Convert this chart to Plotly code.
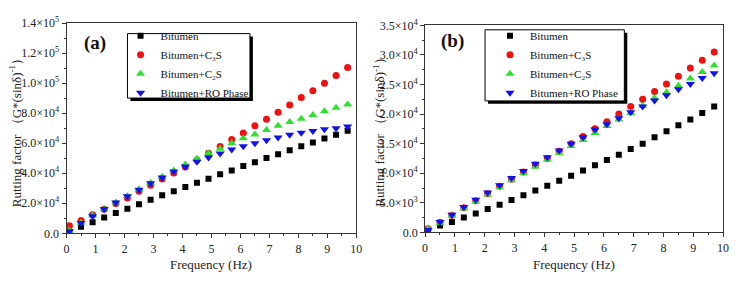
import plotly.graph_objects as go

freq = [0.1, 0.5, 0.9, 1.3, 1.7, 2.1, 2.5, 2.9, 3.3, 3.7, 4.1, 4.5, 4.9,
        5.3, 5.7, 6.1, 6.5, 6.9, 7.3, 7.7, 8.1, 8.5, 8.9, 9.3, 9.7]

series_names = ["Bitumen", "Bitumen+C₃S", "Bitumen+C₂S", "Bitumen+RO Phase"]

a_bitumen = [1000, 4300, 7400, 10500, 13500, 16400, 19400, 22300, 25300, 28000, 30900, 33700, 36400,
             39300, 41900, 44800, 47400, 50100, 52600, 55300, 58000, 60500, 63100, 65700, 68300]
a_c3s = [5000, 8500, 12400, 16000, 19800, 23600, 28000, 32000, 36200, 40200, 44200, 48800, 53300,
         57900, 62500, 66900, 71600, 76000, 80700, 85500, 90400, 95000, 100000, 105200, 110400]
a_c2s = [1700, 7000, 11800, 16400, 20600, 24800, 29300, 33700, 37700, 41900, 45900, 49700, 53300,
         56400, 60000, 63400, 65900, 68800, 71600, 74100, 76400, 78900, 81400, 83600, 85900]
a_ro = [1400, 6800, 11400, 16200, 20500, 24700, 29100, 33300, 37200, 41200, 44500, 47700, 50500,
        53200, 55800, 58000, 60000, 62000, 63800, 65700, 67000, 68200, 69300, 70000, 71200]

b_bitumen = [300, 1170, 1760, 2500, 3190, 3940, 4680, 5480, 6280, 7070, 7870, 8720, 9570,
             10480, 11330, 12230, 13140, 14100, 15000, 16100, 17100, 18100, 19100, 20200, 21300]
b_c3s = [600, 1700, 2900, 4150, 5350, 6550, 7800, 9000, 10200, 11400, 12500, 13700, 15000,
         16200, 17500, 18700, 20000, 21300, 22500, 23800, 25100, 26400, 27800, 29100, 30500]
b_c2s = [600, 1600, 2850, 4050, 5200, 6400, 7650, 8800, 10000, 11100, 12300, 13400, 14600,
         15600, 16800, 18000, 19100, 20200, 21400, 22700, 23700, 24800, 26000, 27100, 28200]
b_ro = [400, 1760, 3000, 4280, 5500, 6730, 7960, 9200, 10370, 11600, 12700, 13850, 15000,
        16100, 17400, 18300, 19300, 20300, 21300, 22300, 23200, 24200, 25100, 26100, 26900]

a_yticks = [0, 20000, 40000, 60000, 80000, 100000, 120000, 140000]
a_yticktext = ["0.0", "2.0×10<sup>4</sup>", "4.0×10<sup>4</sup>", "6.0×10<sup>4</sup>",
               "8.0×10<sup>4</sup>", "1.0×10<sup>5</sup>", "1.2×10<sup>5</sup>", "1.4×10<sup>5</sup>"]
b_yticks = [0, 5000, 10000, 15000, 20000, 25000, 30000, 35000]
b_yticktext = ["0.0", "5.0×10<sup>3</sup>", "1.0×10<sup>4</sup>", "1.5×10<sup>4</sup>",
               "2.0×10<sup>4</sup>", "2.5×10<sup>4</sup>", "3.0×10<sup>4</sup>", "3.5×10<sup>4</sup>"]
xticks = [0, 1, 2, 3, 4, 5, 6, 7, 8, 9, 10]

FONT = "Liberation Serif, Times New Roman, DejaVu Serif, serif"
colors = ["#000000", "#f01010", "#30e030", "#1010f0"]
symbols = ["square", "circle", "triangle-up", "triangle-down"]
sizes = [6, 7, 8, 8]

W, H = 738, 288
def px(x):
    return x / W
def py(y):
    return 1 - y / H

dom_a_x = [px(64.3), px(357.7)]
dom_a_y = [py(237.7), py(16)]
dom_b_x = [px(427.3), px(729)]
dom_b_y = [py(236.7), py(18.3)]

fig = go.Figure()

for i, (ys, nm) in enumerate(zip([a_bitumen, a_c3s, a_c2s, a_ro], series_names)):
    fig.add_trace(go.Scatter(x=freq, y=ys, mode="markers", name=nm,
                             marker=dict(symbol=symbols[i], size=sizes[i], color=colors[i]),
                             xaxis="x", yaxis="y", legend="legend"))
for i, (ys, nm) in enumerate(zip([b_bitumen, b_c3s, b_c2s, b_ro], series_names)):
    fig.add_trace(go.Scatter(x=freq, y=ys, mode="markers", name=nm,
                             marker=dict(symbol=symbols[i], size=sizes[i], color=colors[i]),
                             xaxis="x2", yaxis="y2", legend="legend2"))

axis_common = dict(showline=True, linecolor="#333333", linewidth=1, mirror=True,
                   ticks="outside", ticklen=4, tickcolor="#333333", showgrid=False, zeroline=False,
                   tickfont=dict(family=FONT, size=12, color="#222222"))

legend_common = dict(xanchor="left", yanchor="top", bgcolor="rgba(0,0,0,0)",
                     borderwidth=0, font=dict(family=FONT, size=11, color="#111111"),
                     tracegroupgap=0)

fig.update_layout(
    width=W, height=H,
    margin=dict(l=0, r=0, t=0, b=0),
    paper_bgcolor="white", plot_bgcolor="white",
    font=dict(family=FONT, color="#222222"),
    xaxis=dict(domain=dom_a_x, range=[0, 10], tickvals=xticks, anchor="y",
               minor=dict(ticks="outside", ticklen=2, dtick=0.5, tickcolor="#333333"), **axis_common),
    yaxis=dict(domain=dom_a_y, range=[0, 140000], tickvals=a_yticks, ticktext=a_yticktext, anchor="x",
               minor=dict(ticks="outside", ticklen=2, dtick=10000, tickcolor="#333333"), **axis_common),
    xaxis2=dict(domain=dom_b_x, range=[0, 10], tickvals=xticks, anchor="y2",
                minor=dict(ticks="outside", ticklen=2, dtick=0.5, tickcolor="#333333"), **axis_common),
    yaxis2=dict(domain=dom_b_y, range=[0, 35000], tickvals=b_yticks, ticktext=b_yticktext, anchor="x2",
                minor=dict(ticks="outside", ticklen=2, dtick=2500, tickcolor="#333333"), **axis_common),
    legend=dict(x=px(119), y=py(14), **legend_common),
    legend2=dict(x=px(493), y=py(14), **legend_common),
    showlegend=True,
)

# legend boxes with drop shadows
for (x0, y0, x1, y1) in [(126, 27, 250, 95), (488, 23, 629, 98)]:
    fig.add_shape(type="rect", xref="paper", yref="paper",
                  x0=px(x0 + 3), x1=px(x1 + 3), y0=py(y1 + 3), y1=py(y0 + 3),
                  fillcolor="black", line=dict(width=0), layer="above")
    fig.add_shape(type="rect", xref="paper", yref="paper",
                  x0=px(x0), x1=px(x1), y0=py(y1), y1=py(y0),
                  fillcolor="white", line=dict(width=1, color="black"), layer="above")

# panel labels
fig.add_annotation(x=px(80), y=py(37), xref="paper", yref="paper", text="<b>(a)</b>",
                   showarrow=False, xanchor="left", yanchor="middle",
                   font=dict(family=FONT, size=19, color="#111111"))
fig.add_annotation(x=px(441), y=py(35), xref="paper", yref="paper", text="<b>(b)</b>",
                   showarrow=False, xanchor="left", yanchor="middle",
                   font=dict(family=FONT, size=19, color="#111111"))

# axis titles
for xc in [211, 578]:
    fig.add_annotation(x=px(xc), y=py(271), xref="paper", yref="paper", text="Frequency (Hz)",
                       showarrow=False, xanchor="center", yanchor="middle",
                       font=dict(family=FONT, size=13, color="#222222"))
for xc, yc in [(13, 128), (381, 128)]:
    fig.add_annotation(x=px(xc), y=py(yc), xref="paper", yref="paper",
                       text="Rutting factor （G*(sinδ)<sup>-1</sup>）", textangle=-90,
                       showarrow=False, xanchor="center", yanchor="middle",
                       font=dict(family=FONT, size=13, color="#222222"))

fig.write_html("out.html", config={"displayModeBar": False},
               post_script="document.body.style.margin='0px';")
